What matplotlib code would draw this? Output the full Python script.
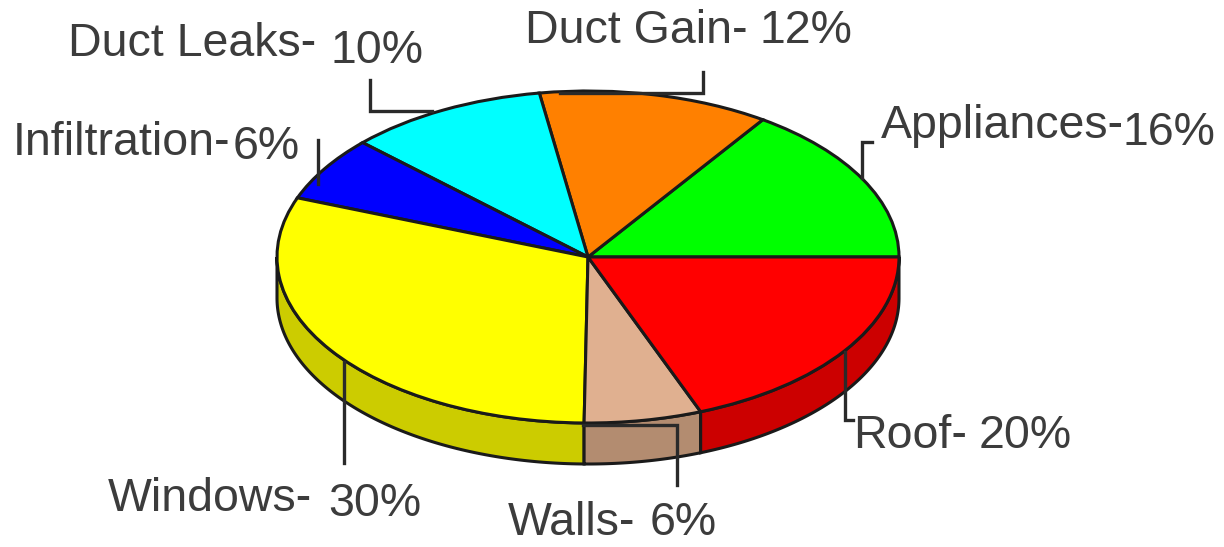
import numpy as np
import matplotlib
matplotlib.use("Agg")
import matplotlib.pyplot as plt

plt.rcParams["font.family"] = ["Liberation Sans", "DejaVu Sans"]

# slices, anticlockwise from 3 o'clock
names = ["Appliances", "Duct Gain", "Duct Leaks", "Infiltration", "Windows", "Walls", "Roof"]
# percentages as printed in the labels
values = [16, 12, 10, 6, 30, 6, 20]
# slice sizes as drawn, they are a bit off from the printed numbers
shares = [15.5, 12.0, 10.4, 6.3, 30.6, 6.1, 19.1]
top_colors = ["#00ff00", "#ff8000", "#00ffff", "#0000ff", "#ffff00", "#e0b090", "#ff0000"]
side_colors = ["#00cc00", "#cc6600", "#00cccc", "#0000cc", "#cccc00", "#b38c70", "#cc0000"]

W, H = 1224, 547
CX, CY, RX, RY, DEPTH = 588, 257, 311, 166, 41
EDGE = "#1a1a1a"
TEXT = "#3c3c3c"
FS = 33.5


def px(x, y):
    # picture pixels to pie units
    return (x - CX) / RX, (CY - y) / RY


fig = plt.figure(figsize=(W / 100, H / 100), dpi=100)
ax = fig.add_axes([0, 0, 1, 1])
wedges, _ = ax.pie(shares, colors=top_colors, startangle=0, counterclock=True, radius=1,
                   wedgeprops={"edgecolor": EDGE, "linewidth": 2.2, "zorder": 3})
ax.set_aspect("auto")
ax.set_xlim(-CX / RX, (W - CX) / RX)
ax.set_ylim((CY - H) / RY, CY / RY)
ax.axis("off")

# rim below the front edge of the pie
d = DEPTH / RY
for w, c in zip(wedges, side_colors):
    a1, a2 = max(w.theta1, 180), min(w.theta2, 360)
    if a2 <= a1:
        continue
    t = np.radians(np.linspace(a1, a2, 120))
    xs = np.cos(t)
    ys = np.sin(t)
    ax.fill(np.r_[xs, xs[::-1]], np.r_[ys, ys[::-1] - d], facecolor=c, edgecolor=EDGE,
            linewidth=2.2, zorder=2)

# leader lines
leaders = [
    [(862, 178), (862, 142), (872, 142)],
    [(703, 72), (703, 93), (560, 93)],
    [(370, 80), (370, 111), (432, 111)],
    [(318, 140), (318, 184)],
    [(344, 362), (344, 463)],
    [(583, 425), (677, 425), (677, 485)],
    [(845, 352), (845, 420), (853, 420)],
]
for pts in leaders:
    xs, ys = zip(*[px(*p) for p in pts])
    ax.plot(xs, ys, color="#2a2a2a", lw=2.4, zorder=4, solid_joinstyle="miter")

# labels: name part and percent part sit a little apart in the original
label_pos = {
    "Appliances": ((881, 138), (1122, 145)),
    "Duct Gain": ((525, 43), (759, 43)),
    "Duct Leaks": ((68, 56), (330, 63)),
    "Infiltration": ((13, 155), (233, 159)),
    "Windows": ((108, 511), (328, 516)),
    "Walls": ((508, 535), (650, 535)),
    "Roof": ((853, 448), (979, 448)),
}
for name, val in zip(names, values):
    (x1, y1), (x2, y2) = label_pos[name]
    ax.text(*px(x1, y1), f"{name}-", fontsize=FS, color=TEXT, ha="left", va="baseline", zorder=5)
    ax.text(*px(x2, y2), f"{val}%", fontsize=FS, color=TEXT, ha="left", va="baseline", zorder=5)

fig.savefig("out.png", dpi=100, facecolor="white")
